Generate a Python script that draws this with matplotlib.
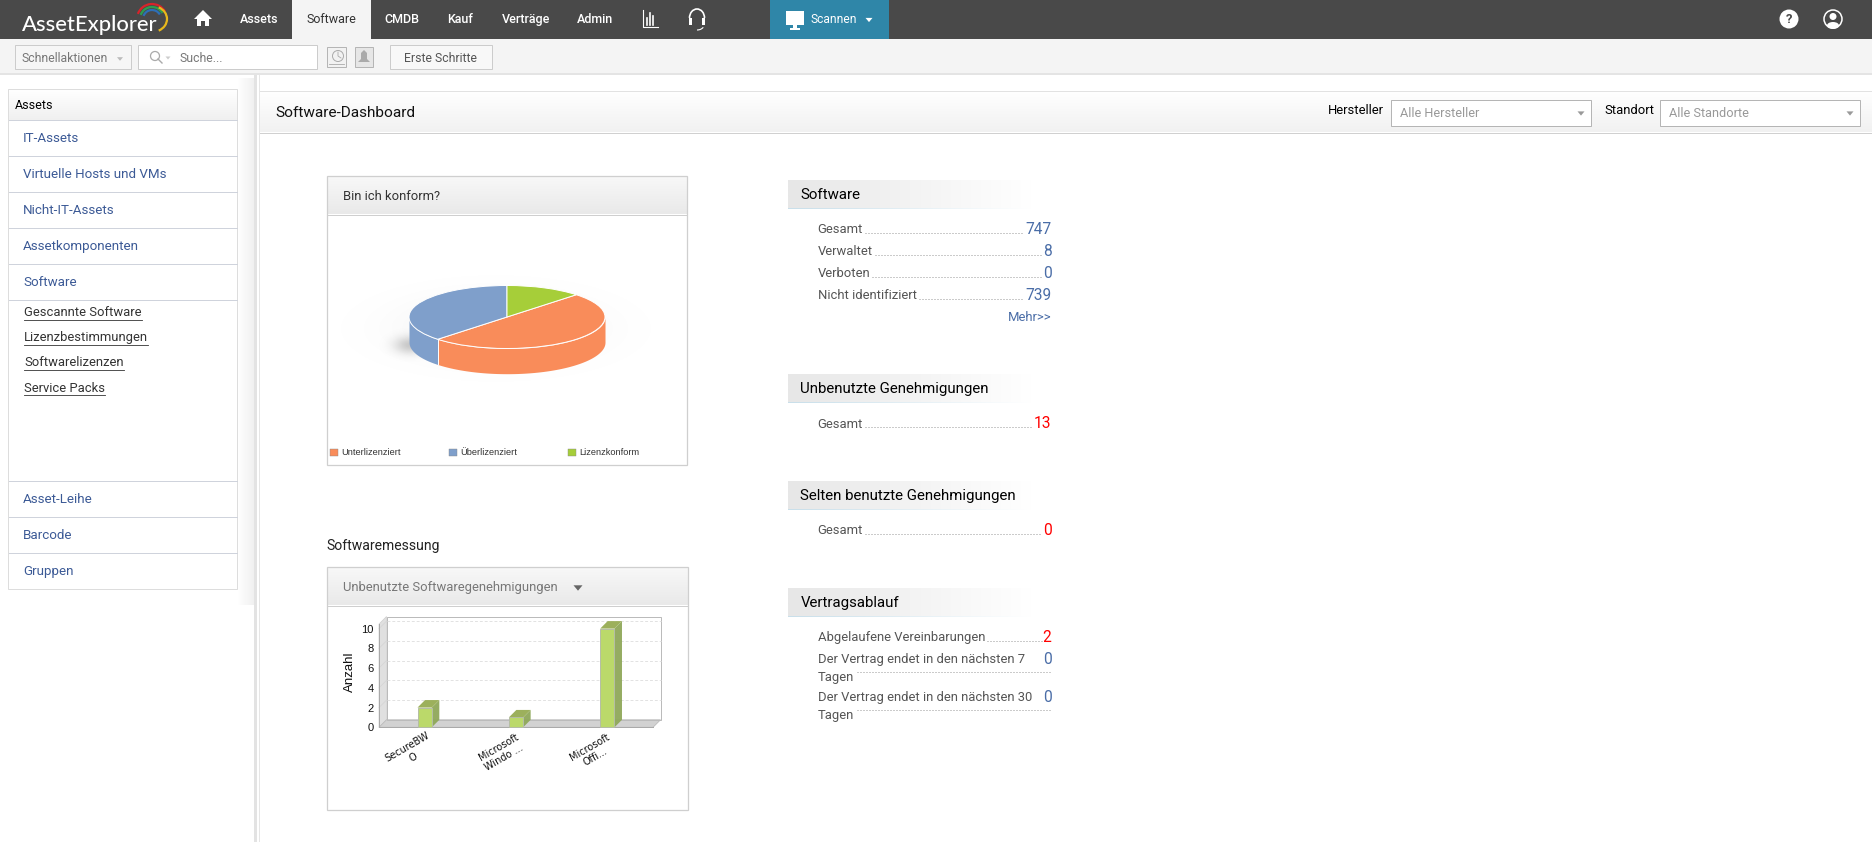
import numpy as np
import matplotlib
matplotlib.use("Agg")
import matplotlib.pyplot as plt
from matplotlib.patches import Arc, Circle, Ellipse, Polygon, Rectangle

W, H = 1872, 842

pie_labels = ["Unterlizenziert", "Überlizenziert", "Lizenzkonform"]
pie_values = [4, 3, 1]
pie_colors = ["#f98c5a", "#7f9fcb", "#a6ce39"]

bar_labels = ["SecureBW\nO", "Microsoft\nWindo ...", "Microsoft\nOffi..."]
bar_values = [2, 1, 10]
bar_ticks = [0, 2, 4, 6, 8, 10]

nav_items = [("Assets", 259), ("CMDB", 402), ("Kauf", 460), ("Verträge", 526), ("Admin", 595)]
side_rows = ["IT-Assets", "Virtuelle Hosts und VMs", "Nicht-IT-Assets", "Assetkomponenten", "Software"]
side_links = ["Gescannte Software", "Lizenzbestimmungen", "Softwarelizenzen", "Service Packs"]
side_bottom = ["Asset-Leihe", "Barcode", "Gruppen"]

software_rows = ["Gesamt", "Verwaltet", "Verboten", "Nicht identifiziert"]
software_counts = ["747", "8", "0", "739"]

plt.rcParams["font.family"] = ["Roboto", "DejaVu Sans"]

fig = plt.figure(figsize=(W / 100, H / 100), dpi=100, facecolor="white")
ax = fig.add_axes([0, 0, 1, 1])
ax.set_xlim(0, W)
ax.set_ylim(H, 0)
ax.axis("off")
renderer = fig.canvas.get_renderer()


def px_axes(x0, y0, x1, y1):
    # axes placed by pixel box, y measured from the top
    return fig.add_axes([x0 / W, 1 - y1 / H, (x1 - x0) / W, (y1 - y0) / H])


def txt(x, y, s, size, color="#333333", ha="left", **kw):
    kw.setdefault("zorder", 4)
    return ax.text(x, y, s, fontsize=size * 0.72, color=color, ha=ha, va="center", **kw)


def box(x0, y0, x1, y1, fc="white", ec="none", lw=0.72, z=1):
    ax.add_patch(Rectangle((x0, y0), x1 - x0, y1 - y0, fc=fc, ec=ec, lw=lw, zorder=z))


def gradient(x0, y0, x1, y1, c0, c1, horizontal=False, z=1):
    c0 = np.array(matplotlib.colors.to_rgba(c0))
    c1 = np.array(matplotlib.colors.to_rgba(c1))
    t = np.linspace(0, 1, 64)[:, None]
    img = c0 * (1 - t) + c1 * t
    img = img[None, :, :] if horizontal else img[:, None, :]
    ax.imshow(img, extent=(x0, x1, y1, y0), aspect="auto", zorder=z, interpolation="bilinear")


def caret(x, y, size, color):
    ax.add_patch(Polygon([(x - size, y - size * 0.6), (x + size, y - size * 0.6), (x, y + size * 0.6)],
                         fc=color, ec="none", zorder=3))


# top navigation
box(0, 0, W, 39, fc="#494949")
box(292, 0, 371, 39, fc="#f4f4f4", z=2)
box(770, 0, 889, 39, fc="#2f86a8", z=2)
txt(22, 25, "AssetExplorer", 22, color="white", family="Lato", weight="medium")
for r, col in [(15, "#d8232a"), (12, "#2e9e4f"), (9, "#2d6fb7")]:
    ax.add_patch(Arc((152, 19), r * 2, r * 2, theta1=200, theta2=330, color=col, lw=1.6, zorder=3))
ax.add_patch(Arc((152, 19), 30, 26, theta1=300, theta2=60, color="#e8b81c", lw=1.6, zorder=3))

ax.add_patch(Polygon([(203, 10), (212, 19), (209, 19), (209, 26), (205, 26), (205, 21), (201, 21), (201, 26),
                      (197, 26), (197, 19), (194, 19)], fc="white", ec="none", zorder=3))
for label, x in nav_items:
    txt(x, 19.5, label, 12.5, color="white", ha="center", weight="medium")
txt(331, 19.5, "Software", 12.5, color="#333333", ha="center")

ax.plot([643, 643, 658], [10, 27, 27], color="white", lw=0.8, zorder=3)
for x, top in [(647, 18), (650, 13), (653, 16)]:
    ax.plot([x, x], [top, 25], color="white", lw=1.2, zorder=3)
ax.add_patch(Arc((697, 18), 15, 18, theta1=180, theta2=360, color="white", lw=1.2, zorder=3))
box(689, 18, 692, 25, fc="white", z=3)
box(702, 18, 705, 25, fc="white", z=3)
ax.add_patch(Arc((697, 25), 14, 10, theta1=20, theta2=90, color="white", lw=0.8, zorder=3))

box(786, 11, 804, 25, fc="white", z=3)
box(793, 25, 797, 28, fc="white", z=3)
box(790, 28, 800, 30, fc="white", z=3)
txt(834, 19.5, "Scannen", 12, color="white", ha="center")
caret(869, 20, 3.5, "white")

ax.add_patch(Circle((1789, 19), 9.5, fc="white", ec="none", zorder=3))
txt(1789, 19.5, "?", 13, color="#494949", ha="center", weight="bold")
ax.add_patch(Circle((1833, 19), 9, fc="none", ec="white", lw=1.1, zorder=3))
ax.add_patch(Circle((1833, 16.5), 3.5, fc="white", ec="none", zorder=3))
ax.add_patch(Ellipse((1833, 25.5), 12, 7, fc="white", ec="none", zorder=3))

# toolbar
box(0, 39, W, 73, fc="#f4f4f4")
box(0, 73, W, 75, fc="#e4e4e4")
box(15, 45, 131, 68.5, fc="#f6f6f6", ec="#cccccc")
txt(22, 58, "Schnellaktionen", 12.3, color="#777777")
caret(120, 59, 3, "#bbbbbb")
box(138, 45, 317, 68.5, fc="white", ec="#cccccc")
ax.add_patch(Circle((155, 56), 4.5, fc="none", ec="#aaaaaa", lw=0.9, zorder=3))
ax.plot([158, 162], [59, 63], color="#aaaaaa", lw=1, zorder=3)
caret(168, 58, 2.5, "#cccccc")
txt(179, 58, "Suche...", 12.2, color="#777777")
box(327, 47, 346, 66.5, fc="#f2f2f2", ec="#b5b5b5", z=2)
ax.add_patch(Circle((338, 56), 5.5, fc="none", ec="#aaaaaa", lw=0.7, zorder=3))
ax.plot([338, 338, 341], [52, 56, 58], color="#aaaaaa", lw=0.6, zorder=3)
ax.plot([329, 344], [64, 64], color="#aaaaaa", lw=0.6, zorder=3)
box(355, 47, 373, 66.5, fc="#e6e6e6", ec="#b5b5b5", z=2)
ax.add_patch(Polygon([(364, 50), (367, 53), (367, 59), (370, 62), (358, 62), (361, 59), (361, 53)],
                     fc="#aaaaaa", ec="none", zorder=3))
box(390, 45, 492, 68.5, fc="#f8f8f8", ec="#cccccc")
txt(441, 58, "Erste Schritte", 12.2, color="#555555", ha="center")

# sidebar
gradient(238, 78, 254, 605, "#ffffff", "#f0f0f0", horizontal=True)
box(254, 75, 257, 842, fc="#e3e3e3")
box(259, 75, 260, 842, fc="#e6e6e6")
box(8, 89, 237, 589, fc="white", ec="#dddddd", z=2)
gradient(9, 90, 237, 120, "#ffffff", "#f0f0f0", z=2)
ax.plot([9, 237], [120, 120], color="#cfd3dc", lw=0.72, zorder=3)
txt(15, 105.5, "Assets", 12.5, color="black")
for i, label in enumerate(side_rows):
    ax.plot([9, 237], [156 + 36 * i] * 2, color="#cfd3dc", lw=0.72, zorder=3)
    txt(23, 138.5 + 36 * i, label, 13.4, color="#3c5a96")
for i, label in enumerate(side_links):
    t = txt(24, 313 + 25 * i, label, 13, color="#333333")
    ext = t.get_window_extent(renderer)
    ax.plot([24, ext.x1], [319.5 + 25 * i] * 2, color="#333333", lw=0.6, zorder=3)
for i, label in enumerate(side_bottom):
    ax.plot([9, 237], [481 + 36 * i] * 2, color="#cfd3dc", lw=0.72, zorder=3)
    txt(23, 499.5 + 36 * i, label, 13.4, color="#3c5a96")

# dashboard header
gradient(260, 91, W, 132, "#ffffff", "#f1f1f1")
ax.plot([260, W], [91, 91], color="#e2e2e2", lw=0.72)
ax.plot([260, W], [132.5, 132.5], color="#d0d0d0", lw=0.72)
txt(275, 113, "Software-Dashboard", 15.4, color="#111111")
txt(1328, 110, "Hersteller", 13, color="black")
box(1391, 100, 1591, 125.5, fc="white", ec="#b5b5b5", z=2)
txt(1400, 113.5, "Alle Hersteller", 12.8, color="#999999")
caret(1581, 113.5, 3.5, "#999999")
txt(1604, 110, "Standort", 13, color="black")
box(1660, 100, 1860, 125.5, fc="white", ec="#b5b5b5", z=2)
txt(1669, 113.5, "Alle Standorte", 12.8, color="#999999")
caret(1850, 113.5, 3.5, "#999999")

# pie panel
box(326.5, 176, 687, 464.5, fc="white", z=2)
gradient(327.5, 177, 686.5, 214.5, "#f8f8f8", "#e9e9e9", z=2)
box(326.5, 176, 687, 464.5, fc="none", ec="#cfcfcf", lw=0.9, z=3)
ax.plot([327, 687], [215, 215], color="#cfcfcf", lw=0.72, zorder=3)
txt(343, 196, "Bin ich konform?", 13, color="#333333")

# soft floor shadow of the pie
yy, xx = np.mgrid[-1:1:120j, -1:1:240j]
shadow = np.zeros((120, 240, 4))
shadow[..., 3] = 0.05 * np.exp(-(xx ** 2 + yy ** 2) * 3)
ax.imshow(shadow, extent=(327, 665, 387, 270), aspect="auto", zorder=2.5)
yy, xx = np.mgrid[-1:1:60j, -1:1:120j]
shadow = np.zeros((60, 120, 4))
shadow[..., 3] = 0.2 * np.exp(-(xx ** 2 + yy ** 2) * 5)
ax.imshow(shadow, extent=(375, 445, 365, 325), aspect="auto", zorder=2.5)

ax_pie = px_axes(507 - 98, 317 - 31.5, 507 + 98, 317 + 31.5)
ax_pie.patch.set_visible(False)
depth = 0.8
start = 45.0
angle = start
for value, color in zip(pie_values, pie_colors):
    sweep = 360.0 * value / sum(pie_values)
    # only the part of the slice on the front half shows a wall
    a1 = (angle - sweep) % 360
    a2 = a1 + sweep
    lo, hi = max(a1, 180), min(a2, 360)
    if hi > lo:
        t = np.radians(np.linspace(lo, hi, 80))
        ax_pie.fill_between(np.cos(t), np.sin(t), np.sin(t) - depth, color=color, lw=0, zorder=0.5, clip_on=False)
        if lo > 180:
            ax_pie.plot([np.cos(t[0])] * 2, [np.sin(t[0]), np.sin(t[0]) - depth], color="white", lw=0.7,
                        zorder=0.6, clip_on=False)
    angle -= sweep
ax_pie.pie(pie_values, colors=pie_colors, startangle=start, counterclock=False, radius=1,
           wedgeprops={"edgecolor": "white", "linewidth": 0.7, "clip_on": False})
ax_pie.set_aspect("auto")
ax_pie.set_xlim(-1, 1)
ax_pie.set_ylim(-1, 1)

for label, color, sx in zip(pie_labels, pie_colors, [330, 449, 568]):
    box(sx, 449, sx + 7.5, 456, fc=color, ec="#888888", lw=0.3, z=3)
    txt(sx + 11, 452.7, label, 9.3, color="#333333", family="Liberation Sans")

# bar panel
txt(326.5, 546, "Softwaremessung", 14, color="#222222")
box(326.5, 567, 687.5, 809.5, fc="white", z=2)
gradient(327.5, 568, 687, 605.5, "#f8f8f8", "#e9e9e9", z=2)
box(326.5, 567, 687.5, 809.5, fc="none", ec="#cfcfcf", lw=0.9, z=3)
ax.plot([327, 687], [606, 606], color="#cfcfcf", lw=0.72, zorder=3)
txt(343, 588, "Unbenutzte Softwaregenehmigungen", 13, color="#777777")
caret(578, 588, 4.5, "#666666")

plot_x0, plot_x1, plot_y0, plot_y1 = 379, 653, 727.3, 624
ax_bar = px_axes(plot_x0, plot_y1, plot_x1, plot_y0)
ax_bar.patch.set_visible(False)
n = len(bar_values)
ax_bar.set_xlim(0, n)
ax_bar.set_ylim(0, (plot_y0 - plot_y1) / 9.87)
dx = 7.5 / ((plot_x1 - plot_x0) / n)
dy = 7.5 / 9.87
y_top = ax_bar.get_ylim()[1]
pos = np.arange(n) + 0.5
width = 14.3 / ((plot_x1 - plot_x0) / n)

# walls and floor of the fake 3d box
ax_bar.add_patch(Polygon([(0, 0), (dx, dy), (dx, y_top + dy), (0, y_top)], fc="#e0e0e0", ec="#d0d0d0", lw=0.5,
                         clip_on=False, zorder=1))
ax_bar.add_patch(Polygon([(0, 0), (n, 0), (n + dx, dy), (dx, dy)], fc="#d2d2d2", ec="#bbbbbb", lw=0.6,
                         clip_on=False, zorder=1))
ax_bar.add_patch(Rectangle((dx, dy), n, y_top, fc="none", ec="#bbbbbb", lw=0.72, clip_on=False, zorder=1))
for v in bar_ticks[1:]:
    ax_bar.plot([dx, n + dx], [v + dy, v + dy], color="#e2e2e2", lw=0.7, ls=(0, (3, 2)), clip_on=False, zorder=1)
    ax_bar.plot([0, dx], [v, v + dy], color="#d4d4d4", lw=0.5, clip_on=False, zorder=1)

for p, v in zip(pos, bar_values):
    x0, x1 = p - width / 2, p + width / 2
    ax_bar.add_patch(Polygon([(x1, 0), (x1 + dx, dy), (x1 + dx, v + dy), (x1, v)], fc="#8fa85a", ec="none",
                             alpha=0.95, clip_on=False, zorder=2))
    ax_bar.add_patch(Polygon([(x0, v), (x1, v), (x1 + dx, v + dy), (x0 + dx, v + dy)], fc="#9cb05c", ec="none",
                             clip_on=False, zorder=2))
ax_bar.bar(pos, bar_values, width=width, color="#bbd96a", edgecolor="#b5bda5", linewidth=0.7, zorder=3, clip_on=False)

for s in ("top", "right"):
    ax_bar.spines[s].set_visible(False)
for s in ("left", "bottom"):
    ax_bar.spines[s].set_color("#aaaaaa")
    ax_bar.spines[s].set_linewidth(0.72)
ax_bar.set_yticks(bar_ticks)
ax_bar.set_yticklabels(bar_ticks, fontsize=8, family="Liberation Sans", color="#111111")
ax_bar.tick_params(axis="y", length=0, pad=4)
ax_bar.set_xticks([])
ax_bar.set_ylabel("Anzahl", fontsize=9.5, family="Liberation Sans", color="#111111", labelpad=4, y=0.54)
for p, label in zip(pos, bar_labels):
    ax_bar.annotate(label, xy=(p, 0), xytext=(-10.5, -18), textcoords="offset points", rotation=30, ha="center",
                    va="center", rotation_mode="anchor", multialignment="center", fontsize=7,
                    family="DejaVu Sans", color="#111111", annotation_clip=False)


# right hand summary blocks
def section(y, title):
    gradient(788, y, 1033, y + 28, "#e7e7e7", "#ffffff", horizontal=True)
    gradient(788, y + 28, 1033, y + 29, "#c9dfea", "#ffffff", horizontal=True)
    txt(800.5, y + 15, title, 15, color="#000000")


def row(y, label, value, color, second=None):
    t = txt(817.5, y, label, 13, color="#555555")
    v = txt(1051.5, y - 0.5, value, 15.5, color=color, ha="right")
    if second is None:
        ax.plot([t.get_window_extent(renderer).x1 + 2, v.get_window_extent(renderer).x0 - 1],
                [y + 3, y + 3], color="#999999", lw=0.72, ls=(0, (1, 2)))
    else:
        txt(817.5, y + 17.5, second, 13, color="#555555")
        ax.plot([857, 1051], [y + 12.5, y + 12.5], color="#999999", lw=0.72, ls=(0, (1, 2)))


section(180, "Software")
for i, (label, value) in enumerate(zip(software_rows, software_counts)):
    row(229.5 + 22.1 * i, label, value, "#4a6da7")
txt(1051.5, 317.5, "Mehr>>", 13, color="#4a6da7", ha="right")
section(374, "Unbenutzte Genehmigungen")
row(424, "Gesamt", "13", "#ff0000")
section(481, "Selten benutzte Genehmigungen")
row(531, "Gesamt", "0", "#ff0000")
section(588, "Vertragsablauf")
row(638, "Abgelaufene Vereinbarungen", "2", "#ff0000")
row(659.5, "Der Vertrag endet in den nächsten 7", "0", "#4a6da7", second="Tagen")
row(697.5, "Der Vertrag endet in den nächsten 30", "0", "#4a6da7", second="Tagen")

ax.set_xlim(0, W)
ax.set_ylim(H, 0)
fig.savefig("out.png", dpi=100)
